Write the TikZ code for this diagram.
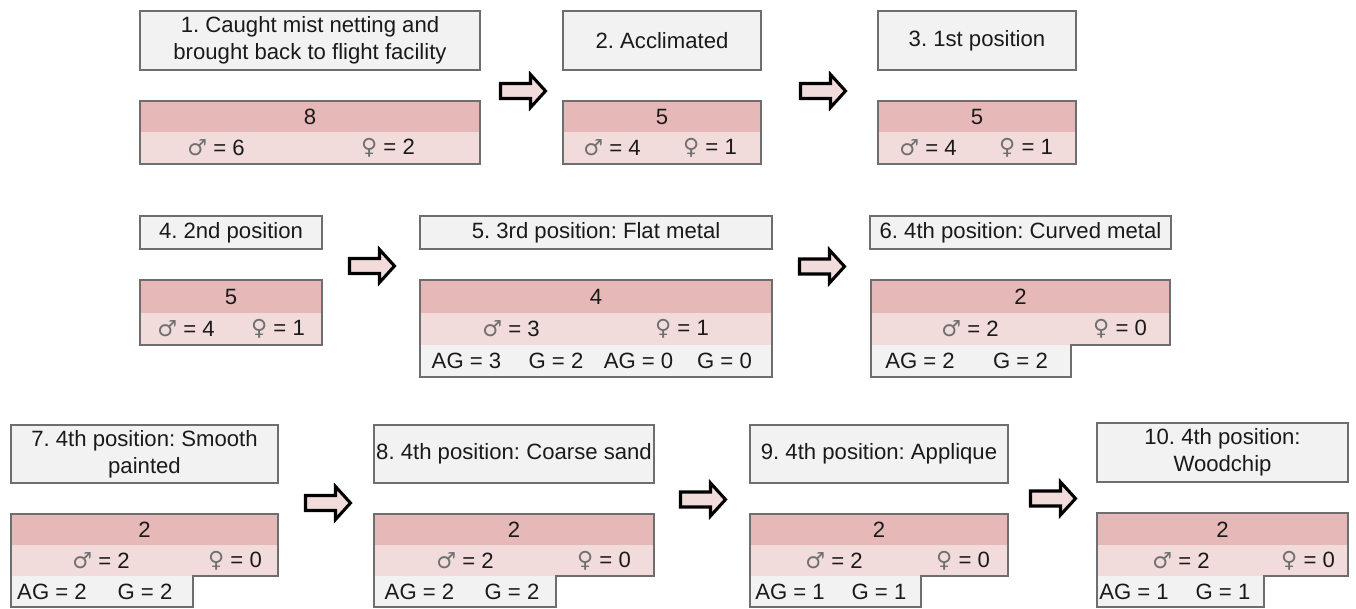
\documentclass[tikz,border=0pt]{standalone}
\usepackage{fontspec}
\setmainfont{Liberation Sans}
\newfontfamily\symfont{DejaVu Sans}
\definecolor{titlefill}{HTML}{F2F2F2}
\definecolor{bordercol}{HTML}{6E6E6E}
\definecolor{darkband}{HTML}{E6B9B8}
\definecolor{lightband}{HTML}{F2DCDB}
\definecolor{txtcol}{HTML}{1A1A1A}
\definecolor{symgray}{HTML}{707070}
\newcommand{\msym}{{\symfont\color{symgray}♂}}
\newcommand{\fsym}{{\symfont\color{symgray}♀}}
\tikzset{
  titlebox/.style={draw=bordercol, fill=titlefill, line width=0.8pt, inner sep=0pt, align=center, text=txtcol, font=\frenchspacing\fontsize{16.6}{20.5}\selectfont},
  outline/.style={draw=bordercol, line width=0.8pt},
  lbl/.style={inner sep=0pt, text=txtcol, font=\frenchspacing\fontsize{16.6}{20}\selectfont},
  blockarrow/.style={draw=black, fill=lightband, line width=2.3pt, line join=miter}
}
\newcommand{\barrow}[2]{%
  \draw[blockarrow] (#1+1.5,#2) ++(0,-7.5) -- ++(30,0) -- ++(0,-9) -- ++(15,16.5) -- ++(-15,16.5) -- ++(0,-9) -- ++(-30,0) -- cycle;}
\begin{document}
\begin{tikzpicture}[x=0.75pt,y=-0.75pt]
\useasboundingbox (0,0) rectangle (1356,608);

% ---------- Row 1 ----------
\node[titlebox, minimum width=255pt, minimum height=44.25pt] (t1) at (310,40.5) {1. Caught mist netting and\\brought back to flight facility};
\fill[darkband] (140,101) rectangle (480,132);
\fill[lightband] (140,132) rectangle (480,164);
\draw[outline] (140,101) rectangle (480,164);
\node[lbl] (n1) at (310,116.5) {8};
\node[lbl] (m1) at (216,148) {\msym{} = 6};
\node[lbl] (f1) at (388,148) {\fsym{} = 2};

\node[titlebox, minimum width=148.5pt, minimum height=44.25pt] (t2) at (662,40.5) {2. Acclimated};
\fill[darkband] (563,101) rectangle (761,132);
\fill[lightband] (563,132) rectangle (761,164);
\draw[outline] (563,101) rectangle (761,164);
\node[lbl] (n2) at (662,116.5) {5};
\node[lbl] (m2) at (612,148) {\msym{} = 4};
\node[lbl] (f2) at (710,148) {\fsym{} = 1};

\node[titlebox, minimum width=148.5pt, minimum height=44.25pt] (t3) at (977,40.5) {3. 1st position};
\fill[darkband] (878,101) rectangle (1076,132);
\fill[lightband] (878,132) rectangle (1076,164);
\draw[outline] (878,101) rectangle (1076,164);
\node[lbl] (n3) at (977,116.5) {5};
\node[lbl] (m3) at (928,148) {\msym{} = 4};
\node[lbl] (f3) at (1026,148) {\fsym{} = 1};

\barrow{499}{91}
\barrow{799}{91}

% ---------- Row 2 ----------
\node[titlebox, minimum width=136.5pt, minimum height=24.75pt] (t4) at (231,232.5) {4. 2nd position};
\fill[darkband] (140,280) rectangle (322,313);
\fill[lightband] (140,313) rectangle (322,345);
\draw[outline] (140,280) rectangle (322,345);
\node[lbl] (n4) at (231,296.5) {5};
\node[lbl] (m4) at (186,329) {\msym{} = 4};
\node[lbl] (f4) at (278,329) {\fsym{} = 1};

\node[titlebox, minimum width=264pt, minimum height=24.75pt] (t5) at (596,232.5) {5. 3rd position: Flat metal};
\fill[darkband] (420,280) rectangle (772,313);
\fill[lightband] (420,313) rectangle (772,345);
\fill[titlefill] (420,345) rectangle (772,377);
\draw[outline] (420,280) rectangle (772,377);
\node[lbl] (n5) at (596,296.5) {4};
\node[lbl] (m5) at (511,329) {\msym{} = 3};
\node[lbl] (f5) at (682,329) {\fsym{} = 1};
\node[lbl] (a5) at (466.5,361) {AG = 3};
\node[lbl] (g5) at (556,361) {G = 2};
\node[lbl] (a5b) at (638.5,361) {AG = 0};
\node[lbl] (g5b) at (724.5,361) {G = 0};

\node[titlebox, minimum width=225.75pt, minimum height=24.75pt] (t6) at (1020.5,232.5) {6. 4th position: Curved metal};
\fill[darkband] (871,280) rectangle (1170,313);
\fill[lightband] (871,313) rectangle (1170,345);
\fill[titlefill] (871,345) rectangle (1071,377);
\draw[outline] (871,280) -- (1170,280) -- (1170,345) -- (1071,345) -- (1071,377) -- (871,377) -- cycle;
\node[lbl] (n6) at (1020.5,296.5) {2};
\node[lbl] (m6) at (970,329) {\msym{} = 2};
\node[lbl] (f6) at (1120,329) {\fsym{} = 0};
\node[lbl] (a6) at (920,361) {AG = 2};
\node[lbl] (g6) at (1020.5,361) {G = 2};

\barrow{348}{266}
\barrow{798}{266.5}

% ---------- Row 3 ----------
\node[titlebox, minimum width=200.25pt, minimum height=43.5pt] (t7) at (144.5,454) {7. 4th position: Smooth\\painted};
\fill[darkband] (11,514) rectangle (278,545);
\fill[lightband] (11,545) rectangle (278,576);
\fill[titlefill] (11,576) rectangle (193,607);
\draw[outline] (11,514) -- (278,514) -- (278,576) -- (193,576) -- (193,607) -- (11,607) -- cycle;
\node[lbl] (n7) at (144.5,529.5) {2};
\node[lbl] (m7) at (101,560.5) {\msym{} = 2};
\node[lbl] (f7) at (235,560.5) {\fsym{} = 0};
\node[lbl] (a7) at (52,591.5) {AG = 2};
\node[lbl] (g7) at (145,591.5) {G = 2};

\node[titlebox, minimum width=210pt, minimum height=43.5pt] (t8) at (514,454) {8. 4th position: Coarse sand};
\fill[darkband] (374,514) rectangle (654,545);
\fill[lightband] (374,545) rectangle (654,576);
\fill[titlefill] (374,576) rectangle (556,607);
\draw[outline] (374,514) -- (654,514) -- (654,576) -- (556,576) -- (556,607) -- (374,607) -- cycle;
\node[lbl] (n8) at (514,529.5) {2};
\node[lbl] (m8) at (465,560.5) {\msym{} = 2};
\node[lbl] (f8) at (604,560.5) {\fsym{} = 0};
\node[lbl] (a8) at (419.5,591.5) {AG = 2};
\node[lbl] (g8) at (512,591.5) {G = 2};

\node[titlebox, minimum width=193.5pt, minimum height=43.5pt] (t9) at (879,454) {9. 4th position: Applique};
\fill[darkband] (750,514) rectangle (1008,545);
\fill[lightband] (750,545) rectangle (1008,576);
\fill[titlefill] (750,576) rectangle (921,607);
\draw[outline] (750,514) -- (1008,514) -- (1008,576) -- (921,576) -- (921,607) -- (750,607) -- cycle;
\node[lbl] (n9) at (879,529.5) {2};
\node[lbl] (m9) at (834,560.5) {\msym{} = 2};
\node[lbl] (f9) at (963,560.5) {\fsym{} = 0};
\node[lbl] (a9) at (790,591.5) {AG = 1};
\node[lbl] (g9) at (879,591.5) {G = 1};

\node[titlebox, minimum width=188.25pt, minimum height=44.25pt] (t10) at (1222.5,452.5) {10. 4th position:\\Woodchip};
\fill[darkband] (1097,513) rectangle (1348,545);
\fill[lightband] (1097,545) rectangle (1348,576);
\fill[titlefill] (1097,576) rectangle (1264,607);
\draw[outline] (1097,513) -- (1348,513) -- (1348,576) -- (1264,576) -- (1264,607) -- (1097,607) -- cycle;
\node[lbl] (n10) at (1222.5,529.5) {2};
\node[lbl] (m10) at (1181,560.5) {\msym{} = 2};
\node[lbl] (f10) at (1308,560.5) {\fsym{} = 0};
\node[lbl] (a10) at (1134,591.5) {AG = 1};
\node[lbl] (g10) at (1223,591.5) {G = 1};

\barrow{304}{503}
\barrow{679}{499.5}
\barrow{1029}{498.5}
\end{tikzpicture}
\end{document}
